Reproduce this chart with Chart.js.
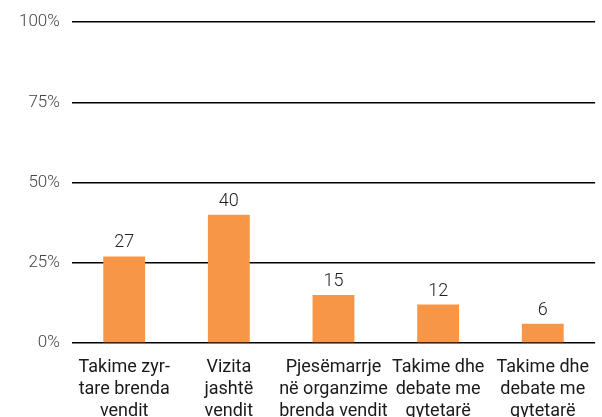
<!DOCTYPE html>
<html>
<head>
<meta charset="utf-8">
<script src="https://cdn.jsdelivr.net/npm/chart.js@4/dist/chart.umd.min.js"></script>
<style>
  html, body { margin: 0; padding: 0; background: #fff; overflow: hidden; }
  #wrap { position: relative; width: 602px; height: 435px; }
</style>
</head>
<body>
<div id="wrap"><canvas id="chart"></canvas></div>
<script>
const categories = [
    ['Takime zyr-', 'tare brenda', 'vendit'],
    ['Vizita', 'jashtë', 'vendit'],
    ['Pjesëmarrje', 'në organzime', 'brenda vendit'],
    ['Takime dhe', 'debate me', 'qytetarë'],
    ['Takime dhe', 'debate me', 'qytetarë']
];
const values = [27, 40, 15, 12, 6];
const yTicks = [0, 25, 50, 75, 100];

const barColor = '#F79646';
const fontFamily = 'Roboto, "DejaVu Sans", sans-serif';

// value labels above each bar
const valueLabels = {
    id: 'valueLabels',
    afterDatasetsDraw(chart) {
        const ctx = chart.ctx;
        const meta = chart.getDatasetMeta(0);
        ctx.save();
        ctx.font = '300 18px ' + fontFamily;
        ctx.fillStyle = '#222';
        ctx.textAlign = 'center';
        ctx.textBaseline = 'alphabetic';
        meta.data.forEach(function(bar, i) {
            ctx.fillText(String(values[i]), bar.x, bar.y - 9);
        });
        ctx.restore();
    }
};

new Chart(
    document.getElementById('chart'),
    {
        type: 'bar',
        data: {
            labels: categories,
            datasets: [
            {
                data: values,
                backgroundColor: barColor,
                barPercentage: 0.4,
                categoryPercentage: 1
            }
            ]
        },
        options: {
            responsive: true,
            maintainAspectRatio: false,
            animation: false,
            layout: { padding: { left: 7, top: 17, right: 0, bottom: 0 } },
            plugins: {
                legend: { display: false },
                tooltip: { enabled: false }
            },
            scales: {
                x: {
                    grid: { display: false, drawTicks: false },
                    border: { display: false },
                    ticks: {
                        color: '#1a1a1a',
                        padding: 13,
                        maxRotation: 0,
                        autoSkip: false,
                        font: { family: fontFamily, size: 18, lineHeight: 1.22 }
                    }
                },
                y: {
                    min: 0,
                    max: 100,
                    afterBuildTicks: function(axis) {
                        axis.ticks = yTicks.map(function(v) { return { value: v }; });
                    },
                    grid: { color: '#000', lineWidth: 1.5, drawTicks: false },
                    border: { display: false },
                    ticks: {
                        color: '#444',
                        padding: 12,
                        font: { family: fontFamily, size: 17, weight: '300' },
                        callback: function(v) { return v + '%'; }
                    }
                }
            }
        },
        plugins: [valueLabels]
    }
);
</script>
</body>
</html>
